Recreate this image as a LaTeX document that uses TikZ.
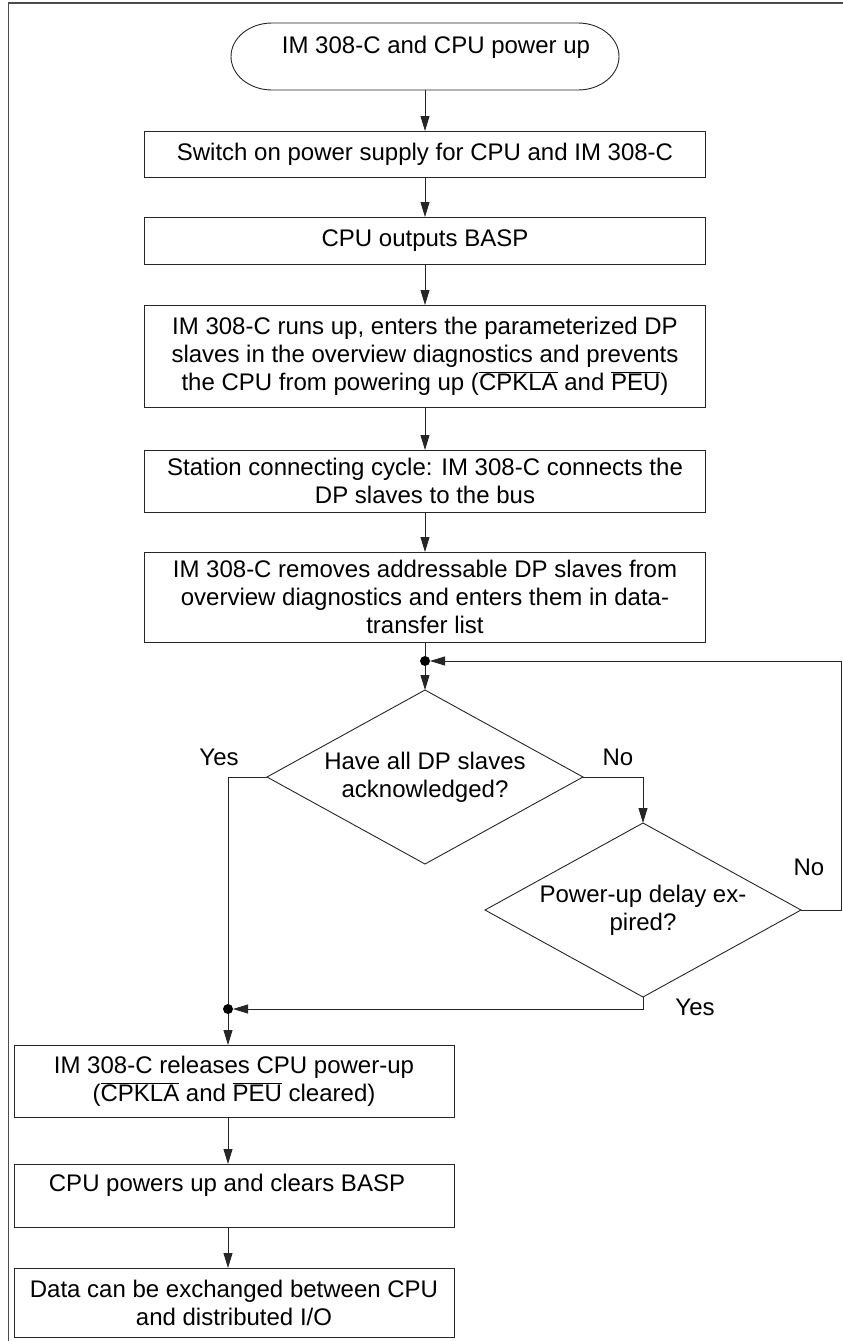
\documentclass[tikz,border=0pt]{standalone}
\usepackage{fontspec}
\setmainfont{Liberation Sans}
\usetikzlibrary{arrows.meta}
\newcommand\ovl[1]{$\overline{\mbox{#1}}$}
\begin{document}
\begin{tikzpicture}[x=1pt,y=-1pt,
  every node/.style={font=\fontsize{24}{28}\selectfont},
  procbox/.style={draw=black!85, line width=0.9pt, align=center, inner sep=0pt, outer sep=0pt},
  wide/.style={procbox, minimum width=561pt},
  narrow/.style={procbox, minimum width=440pt},
  flow/.style={line width=0.9pt, draw=black!85},
  arr/.style={flow, -{Triangle[length=15pt,width=9pt]}},
  dot/.style={circle, fill=black, inner sep=0pt, outer sep=0pt, minimum size=10pt},
  lbl/.style={inner sep=0pt}
]
\useasboundingbox (0,0) rectangle (843,1341);
% frame
\draw[line width=1.2pt, black!70] (8.5,1341) -- (8.5,3) -- (843,3);

% terminal
\node[minimum width=388pt, minimum height=67pt, inner sep=0pt, outer sep=0pt] (start) at (425,56.5) {};
\draw[flow] ([xshift=41pt]start.north west) -- ([xshift=-41pt]start.north east)
  arc[start angle=90, end angle=-90, x radius=41pt, y radius=33.5pt]
  -- ([xshift=41pt]start.south west)
  arc[start angle=270, end angle=90, x radius=41pt, y radius=33.5pt] -- cycle;
\node[lbl, anchor=base] (starttxt) at (436,53) {IM 308-C and CPU power up};

% main column
\node[wide, minimum height=46pt] (b1) at (425,154) {Switch on power supply for CPU and IM 308-C};
\node[wide, minimum height=47pt] (b2) at (425,240.5) {CPU outputs BASP};
\node[wide, minimum height=102pt] (b3) at (425,356) {IM 308-C runs up, enters the parameterized DP\\slaves in the overview diagnostics and prevents\\the CPU from powering up (\ovl{CPKLA} and \ovl{PEU})};
\node[wide, minimum height=62pt] (b4) at (425,481) {Station connecting cycle: IM 308-C connects the\\DP slaves to the bus};
\node[wide, minimum height=90pt] (b5) at (425,597) {IM 308-C removes addressable DP slaves from\\overview diagnostics and enters them in data-\\transfer list};

\node[dot] (j1) at (425,661) {};

% decisions
\node[lbl, align=center] (d1) at (425,777) {Have all DP slaves\\acknowledged?};
\coordinate (d1t) at (425,690);
\coordinate (d1l) at (267,777);
\coordinate (d1r) at (583,777);
\coordinate (d1b) at (425,864);
\draw[flow, line join=miter] (d1t) -- (d1r) -- (d1b) -- (d1l) -- cycle;

\node[lbl, align=center] (d2) at (643,910) {Power-up delay ex-\\pired?};
\coordinate (d2t) at (643,823);
\coordinate (d2l) at (485,910);
\coordinate (d2r) at (801,910);
\coordinate (d2b) at (643,997);
\draw[flow, line join=miter] (d2t) -- (d2r) -- (d2b) -- (d2l) -- cycle;

\coordinate (loop) at (841,661);
\node[dot] (j2) at (228,1009) {};

% lower column
\node[narrow, minimum height=72pt] (b6) at (234,1081) {IM 308-C releases CPU power-up\\(\ovl{CPKLA} and \ovl{PEU} cleared)};
\node[narrow, minimum height=63pt] (b7) at (234,1195.5) {};
\node[lbl, anchor=base] (b7txt) at (227,1191) {CPU powers up and clears BASP};
\node[narrow, minimum height=69pt] (b8) at (234,1302.5) {Data can be exchanged between CPU\\and distributed I/O};

% labels
\node[lbl] (yes1) at (219,757) {Yes};
\node[lbl] (no1) at (618,757) {No};
\node[lbl] (no2) at (809,867) {No};
\node[lbl] (yes2) at (695,1007) {Yes};

% connectors
\draw[arr] (start.south) -- (b1.north);
\draw[arr] (b1) -- (b2);
\draw[arr] (b2) -- (b3);
\draw[arr] (b3) -- (b4);
\draw[arr] (b4) -- (b5);
\draw[flow] (b5.south) -- (j1);
\draw[arr] (j1) -- (d1t);
\draw[arr] (d1r) -| (d2t);
\draw[arr] (d2r) -| (loop) -- (j1);
\draw[flow] (d1l) -| (j2);
\draw[arr] (d2b) |- (j2);
\draw[arr] (j2) -- (j2 |- b6.north);
\draw[arr] (b6.south -| j2) -- (j2 |- b7.north);
\draw[arr] (b7.south -| j2) -- (j2 |- b8.north);
\end{tikzpicture}
\end{document}
